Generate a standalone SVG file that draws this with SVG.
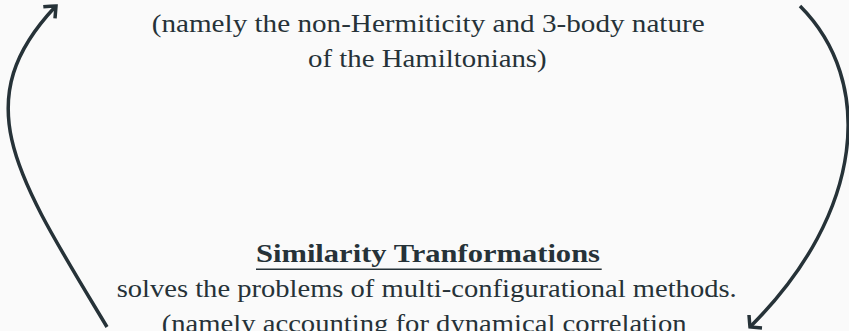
<svg xmlns="http://www.w3.org/2000/svg" width="849" height="331" viewBox="0 0 849 331">
  <style>
    .t { font-family: "Liberation Serif", "DejaVu Serif", serif; font-size: 25px; fill: #263238; }
    .b { font-weight: bold; }
    .edge { fill: none; stroke: #263238; stroke-width: 3.5; }
    .head { fill: none; stroke: #263238; stroke-width: 3.5; stroke-linejoin: miter; stroke-linecap: butt; }
  </style>
  <rect x="0" y="0" width="849" height="331" fill="#fafafa"/>
  <g id="node-top">
    <text class="t" x="151.7" y="31.5" textLength="553" lengthAdjust="spacingAndGlyphs">(namely the non-Hermiticity and 3-body nature</text>
    <text class="t" x="308" y="66.5" textLength="238.7" lengthAdjust="spacingAndGlyphs">of the Hamiltonians)</text>
  </g>
  <g id="node-bottom">
    <text class="t b" x="256" y="261.5" textLength="344" lengthAdjust="spacingAndGlyphs">Similarity Tranformations</text>
    <line x1="256" y1="269.3" x2="601.7" y2="269.3" stroke="#263238" stroke-width="1.6"/>
    <text class="t" x="116.7" y="296.5" textLength="620" lengthAdjust="spacingAndGlyphs">solves the problems of multi-configurational methods.</text>
    <text class="t" x="161.7" y="331.5" textLength="525" lengthAdjust="spacingAndGlyphs">(namely accounting for dynamical correlation</text>
  </g>
  <g id="connectors">
    <path class="edge" d="M107,327 C17,177 -35,103 55,7"/>
    <path class="head" d="M43.3,6.7 Q51,6 56,6 Q55.5,12 55,18.3"/>
    <path class="edge" d="M800,6 C875,81 865,212 751,326"/>
    <path class="head" d="M749,315 Q749.5,322 750,327 Q756,327.5 762,328"/>
  </g>
</svg>
